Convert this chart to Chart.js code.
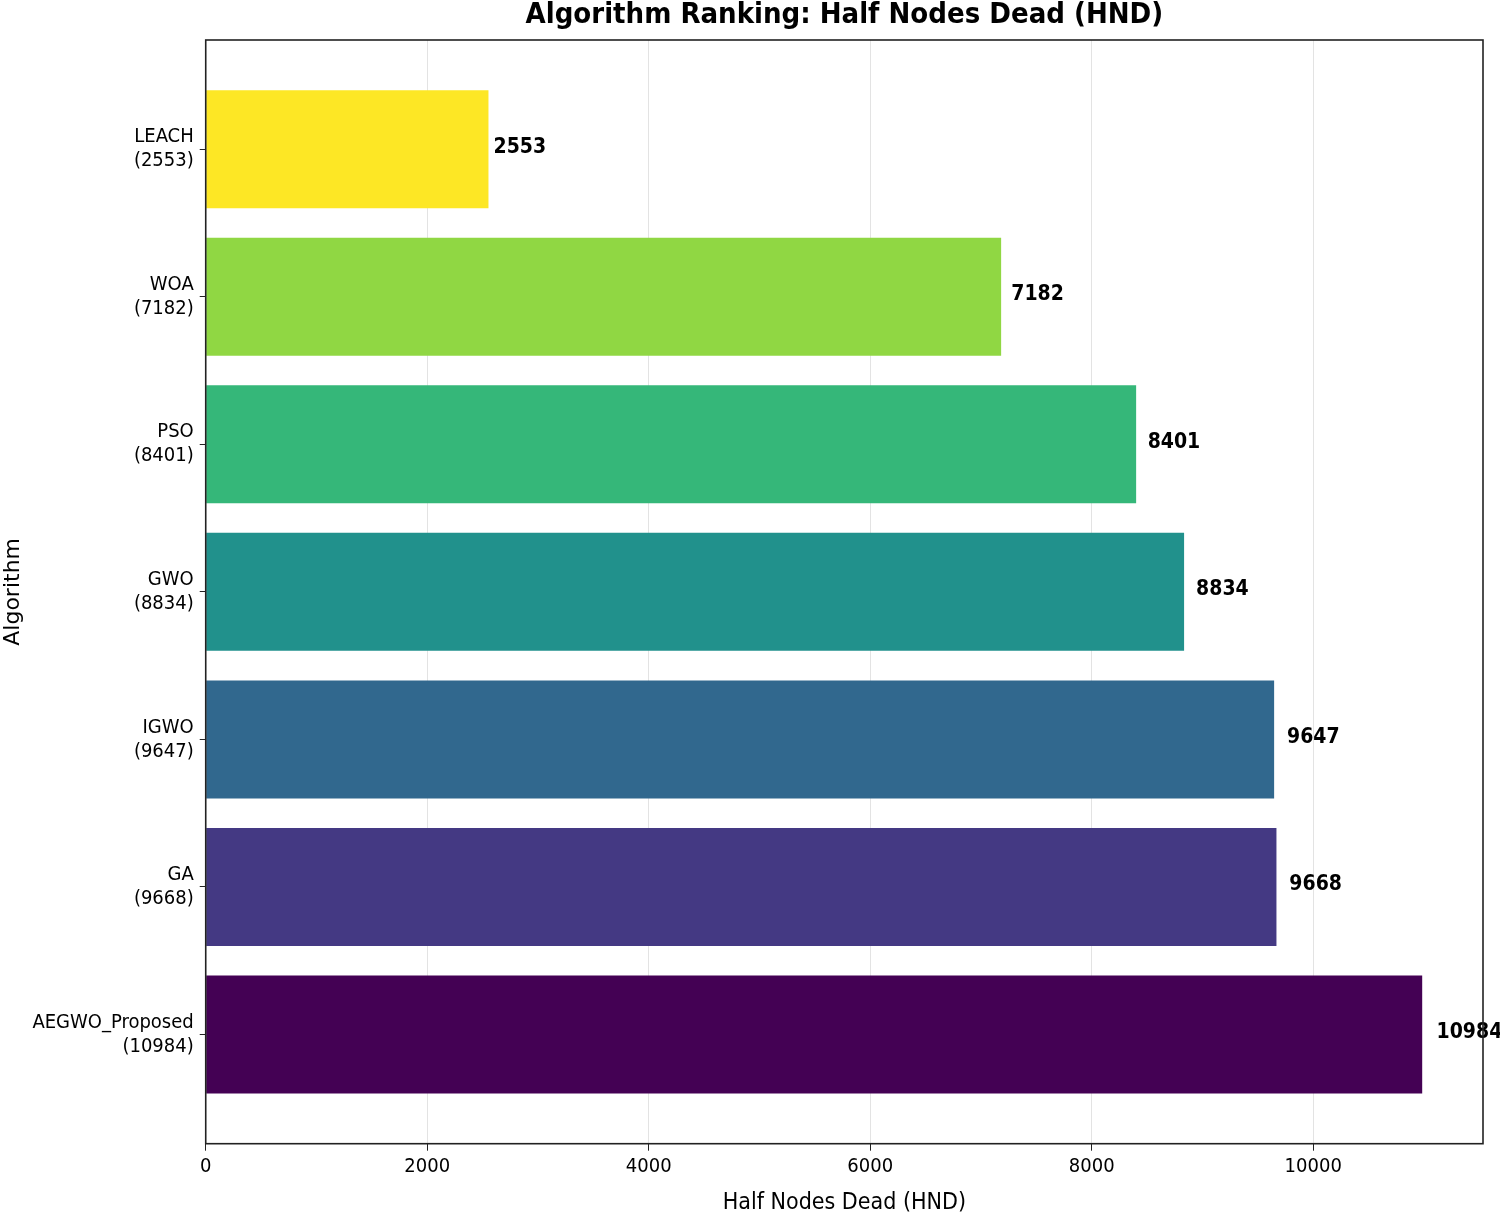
<!DOCTYPE html>
<html>
<head>
<meta charset="utf-8">
<script src="https://cdn.jsdelivr.net/npm/chart.js@4.4.0/dist/chart.umd.min.js"></script>
<style>
  html, body { margin: 0; padding: 0; background: #fff; }
  #wrap { width: 1500px; height: 1216px; }
</style>
</head>
<body>
<div id="wrap"><canvas id="graf1" width="1500" height="1216"></canvas></div>
<script>
// bottom to top, like the matplotlib barh
var algorithms = ['AEGWO_Proposed', 'GA', 'IGWO', 'GWO', 'PSO', 'WOA', 'LEACH'];
var hnd = [10984, 9668, 9647, 8834, 8401, 7182, 2553];
var barColors = ['#440154', '#443983', '#31688e', '#21918c', '#35b779', '#90d743', '#fde725'];
var xTicks = [0, 2000, 4000, 6000, 8000, 10000];
var chartTitle = 'Algorithm Ranking: Half Nodes Dead (HND)';

var condensed = "'DejaVu Sans Condensed', 'Liberation Sans Narrow', 'DejaVu Sans', sans-serif";

var points = hnd.map(function(v, i) { return { x: v, y: i }; });

// value text next to every bar
var valueLabels = {
  id: 'valueLabels',
  afterDatasetsDraw: function(chart) {
    var ctx = chart.ctx;
    var xs = chart.scales.x, ys = chart.scales.y;
    ctx.save();
    ctx.font = 'bold 21px ' + condensed;
    ctx.fillStyle = '#000';
    ctx.textAlign = 'left';
    ctx.textBaseline = 'middle';
    hnd.forEach(function(v, i) {
      ctx.fillText(String(v), xs.getPixelForValue(v * 1.01 + 20), ys.getPixelForValue(i) - 2);
    });
    ctx.restore();
  }
};

// matplotlib style box round the plot + title centred on the axes
var frame = {
  id: 'frame',
  afterDraw: function(chart) {
    var a = chart.chartArea, ctx = chart.ctx;
    ctx.save();
    ctx.strokeStyle = '#222';
    ctx.lineWidth = 1.6;
    ctx.strokeRect(a.left, a.top, a.right - a.left, a.bottom - a.top);
    ctx.font = 'bold 29px ' + condensed;
    ctx.fillStyle = '#000';
    ctx.textAlign = 'center';
    ctx.textBaseline = 'middle';
    ctx.fillText(chartTitle, (a.left + a.right) / 2, 15);
    ctx.restore();
  }
};

var chart = new Chart(document.getElementById('graf1'), {
  type: 'bar',
  data: {
    datasets: [{
      data: points,
      backgroundColor: barColors,
      borderWidth: 0,
      categoryPercentage: 1.0,
      barPercentage: 0.8
    }]
  },
  options: {
    indexAxis: 'y',
    responsive: false,
    animation: false,
    layout: { padding: { left: 0, right: 17, top: 40, bottom: 0 } },
    plugins: {
      legend: { display: false },
      tooltip: { enabled: false },
      title: { display: false }
    },
    scales: {
      x: {
        type: 'linear',
        min: 0,
        max: 11533,
        z: 1,
        afterBuildTicks: function(scale) {
          scale.ticks = xTicks.map(function(v) { return { value: v }; });
        },
        grid: {
          color: 'rgba(176,176,176,0.35)',
          lineWidth: 1,
          tickLength: 7,
          tickColor: '#222'
        },
        border: { display: false },
        ticks: {
          color: '#000',
          font: { family: condensed, size: 20 },
          padding: 4,
          maxRotation: 0,
          callback: function(v) { return String(v); }
        },
        title: {
          display: true,
          text: 'Half Nodes Dead (HND)',
          color: '#000',
          font: { family: condensed, size: 23, lineHeight: 1.1 },
          padding: { top: 8, bottom: 0 }
        }
      },
      y: {
        type: 'linear',
        min: -0.74,
        max: 6.74,
        offset: false,
        afterBuildTicks: function(scale) {
          scale.ticks = algorithms.map(function(n, i) { return { value: i }; });
        },
        grid: {
          offset: false,
          drawOnChartArea: false,
          tickLength: 6,
          tickColor: '#222'
        },
        border: { display: false },
        ticks: {
          color: '#000',
          font: { family: condensed, size: 20, lineHeight: 1.2 },
          padding: 6,
          callback: function(v) {
            return [algorithms[v], '(' + hnd[v] + ')'];
          }
        },
        title: {
          display: true,
          text: 'Algorithm',
          color: '#000',
          font: { family: "'DejaVu Sans', sans-serif", size: 22 },
          padding: { top: 0, bottom: 0 }
        }
      }
    }
  },
  plugins: [valueLabels, frame]
});
</script>
</body>
</html>
